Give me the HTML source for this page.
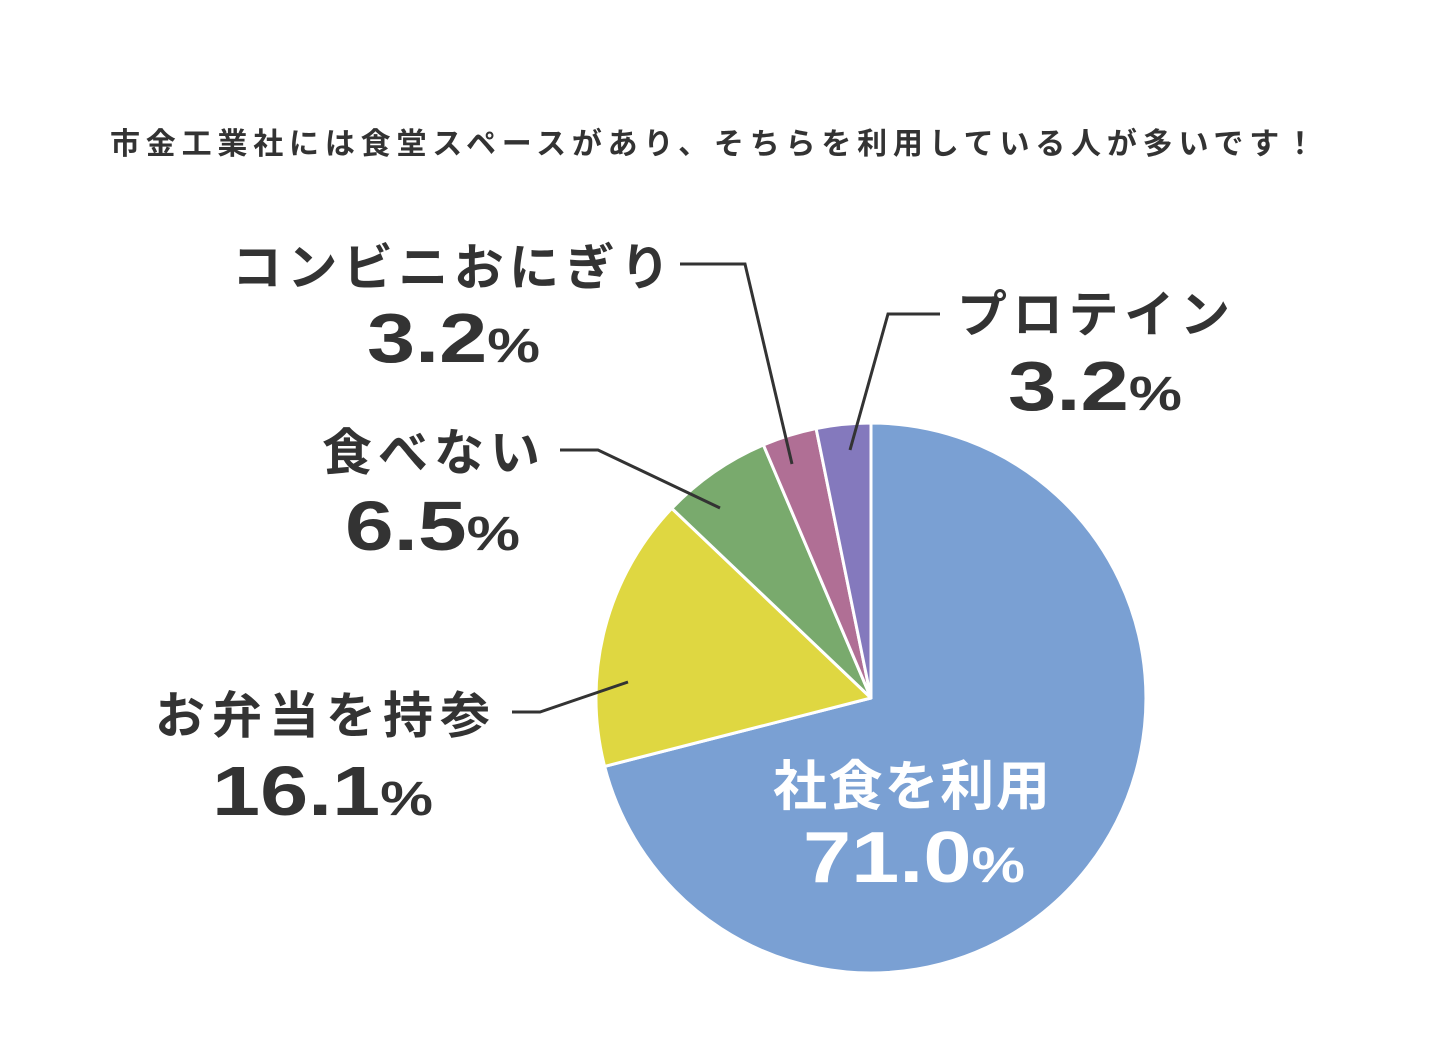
<!DOCTYPE html>
<html><head><meta charset="utf-8"><style>
html,body{margin:0;padding:0;background:#fff;}
svg{display:block;}
text{font-family:"Liberation Sans","Noto Sans CJK JP",sans-serif;font-weight:bold;fill:#333;}
</style></head><body>
<svg width="1441" height="1041" viewBox="0 0 1441 1041" xmlns="http://www.w3.org/2000/svg">
<text x="110" y="154" font-size="30" textLength="1205" lengthAdjust="spacing">市金工業社には食堂スペースがあり、そちらを利用している人が多いです！</text>
<g stroke="#fff" stroke-width="3" stroke-linejoin="round">
<path d="M871,698 L871,423 A275,275 0 1,1 604.6,766.4 Z" fill="#7aa0d3"/>
<path d="M871,698 L604.6,766.4 A275,275 0 0,1 671.8,508.4 Z" fill="#dfd741"/>
<path d="M871,698 L671.8,508.4 A275,275 0 0,1 763.4,444.9 Z" fill="#79aa6d"/>
<path d="M871,698 L763.4,444.9 A275,275 0 0,1 816.1,428.5 Z" fill="#b06f95"/>
<path d="M871,698 L816.1,428.5 A275,275 0 0,1 871,423 Z" fill="#8479bd"/>
</g>
<g stroke="#333" stroke-width="3" fill="none">
<polyline points="680,264 745,264 792,464"/>
<polyline points="940,314 888,314 850,450"/>
<polyline points="560,450 598,450 720,508"/>
<polyline points="512,712 540,712 628,682"/>
</g>
<text x="232" y="285" font-size="50" textLength="438" lengthAdjust="spacing">コンビニおにぎり</text>
<text x="367" y="362" font-size="70" textLength="173" lengthAdjust="spacingAndGlyphs">3.2<tspan font-size="48">%</tspan></text>
<text x="957" y="332" font-size="50" textLength="273" lengthAdjust="spacing">プロテイン</text>
<text x="1008" y="410" font-size="70" textLength="174" lengthAdjust="spacingAndGlyphs">3.2<tspan font-size="48">%</tspan></text>
<text x="322" y="470" font-size="50" textLength="218" lengthAdjust="spacing">食べない</text>
<text x="345" y="550" font-size="70" textLength="175" lengthAdjust="spacingAndGlyphs">6.5<tspan font-size="48">%</tspan></text>
<text x="155" y="733" font-size="50" textLength="335" lengthAdjust="spacing">お弁当を持参</text>
<text x="212" y="815" font-size="70" textLength="221" lengthAdjust="spacingAndGlyphs">16.1<tspan font-size="48">%</tspan></text>
<text x="773" y="805" font-size="54" textLength="277" lengthAdjust="spacing" style="fill:#fff">社食を利用</text>
<text x="803" y="882" font-size="72" textLength="222" lengthAdjust="spacingAndGlyphs" style="fill:#fff">71.0<tspan font-size="50">%</tspan></text>
</svg>
</body></html>
